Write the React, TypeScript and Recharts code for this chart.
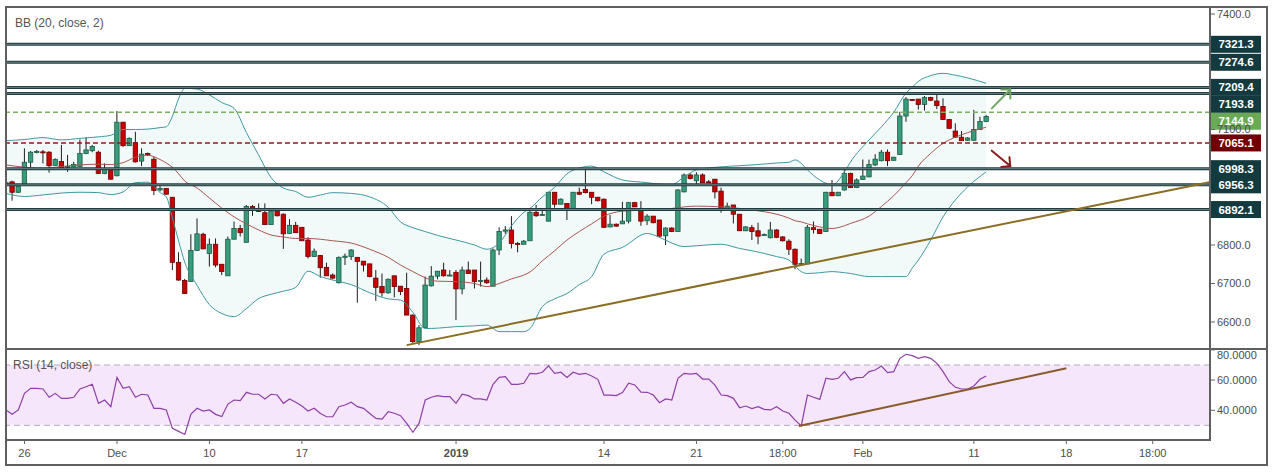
import React from "react"
import {
  ComposedChart,
  Bar,
  Line,
  Area,
  XAxis,
  YAxis,
  ReferenceLine,
  ReferenceArea
} from "recharts"

const FONT = "'Liberation Sans', Arial, sans-serif"

// 8h candles, index 0 = first visible bar
const opens = [
  6959, 6964, 6937, 6956, 7015, 7041, 7042, 7041, 7007, 7017, 7003, 7003, 7004, 7038, 7045, 7041, 6986, 6996, 6980, 7119,
  7058, 7066, 7018, 7038, 7023, 6943, 6947, 6924, 6755, 6708, 6705, 6786, 6828, 6778, 6802, 6750, 6720, 6815, 6843, 6807,
  6900, 6893, 6884, 6853, 6888, 6880, 6830, 6851, 6846, 6813, 6770, 6773, 6742, 6722, 6702, 6768, 6770, 6768, 6758, 6751,
  6714, 6692, 6676, 6720, 6693, 6687, 6618, 6549, 6586, 6694, 6719, 6735, 6720, 6729, 6686, 6735, 6735, 6706, 6709, 6693,
  6787, 6836, 6839, 6804, 6802, 6811, 6885, 6877, 6862, 6937, 6906, 6908, 6893, 6937, 6944, 6937, 6924, 6919, 6847, 6854,
  6855, 6862, 6910, 6895, 6863, 6875, 6865, 6824, 6844, 6835, 6938, 6982, 6967, 6982, 6964, 6971, 6940, 6893, 6904, 6880,
  6837, 6845, 6837, 6826, 6819, 6839, 6821, 6810, 6789, 6750, 6751, 6845, 6841, 6835, 6937, 6928, 6943, 6986, 6949, 6970,
  6977, 7008, 7019, 7041, 7020, 7035, 7135, 7178, 7179, 7165, 7183, 7174, 7160, 7126, 7096, 7080, 7072, 7072, 7100, 7121
]
const highs = [
  6964, 6967, 6956, 7051, 7044, 7047, 7047, 7044, 7025, 7060, 7034, 7016, 7074, 7080, 7060, 7045, 7012, 7000, 7148, 7120,
  7080, 7094, 7051, 7040, 7029, 6957, 6948, 6925, 6781, 6712, 6828, 6869, 6832, 6817, 6817, 6750, 6822, 6861, 6852, 6904,
  6904, 6908, 6908, 6891, 6891, 6882, 6867, 6860, 6846, 6820, 6791, 6773, 6754, 6726, 6770, 6778, 6789, 6768, 6758, 6751,
  6735, 6726, 6713, 6720, 6693, 6728, 6620, 6592, 6718, 6745, 6732, 6754, 6735, 6735, 6744, 6757, 6735, 6757, 6716, 6791,
  6846, 6849, 6875, 6808, 6813, 6895, 6904, 6893, 6938, 6938, 6921, 6908, 6938, 6949, 6999, 6937, 6925, 6921, 6878, 6856,
  6912, 6912, 6912, 6914, 6880, 6875, 6865, 6846, 6846, 6945, 6986, 6986, 6989, 6986, 6969, 6971, 6949, 6910, 6904, 6880,
  6849, 6852, 6858, 6830, 6860, 6841, 6823, 6815, 6791, 6765, 6852, 6861, 6841, 6938, 6969, 6938, 6999, 6988, 6973, 7022,
  7022, 7036, 7047, 7048, 7029, 7146, 7184, 7179, 7179, 7187, 7185, 7191, 7181, 7126, 7116, 7096, 7080, 7151, 7133, 7138
]
const lows = [
  6957, 6915, 6935, 6954, 6999, 7038, 7012, 6988, 7006, 6999, 6990, 7002, 7003, 7036, 7041, 6984, 6984, 6969, 6978, 7055,
  7057, 7014, 7005, 7031, 6930, 6939, 6931, 6735, 6707, 6673, 6704, 6785, 6789, 6744, 6742, 6722, 6720, 6815, 6822, 6807,
  6876, 6887, 6853, 6853, 6874, 6790, 6829, 6832, 6811, 6765, 6770, 6715, 6720, 6711, 6700, 6748, 6761, 6650, 6731, 6716,
  6655, 6666, 6673, 6664, 6670, 6618, 6545, 6540, 6586, 6692, 6711, 6718, 6719, 6605, 6672, 6726, 6687, 6692, 6699, 6692,
  6774, 6829, 6791, 6781, 6802, 6811, 6873, 6877, 6861, 6897, 6906, 6865, 6891, 6930, 6934, 6906, 6913, 6844, 6846, 6847,
  6855, 6856, 6899, 6850, 6852, 6856, 6820, 6800, 6834, 6834, 6937, 6970, 6958, 6962, 6962, 6921, 6884, 6891, 6856, 6837,
  6836, 6813, 6802, 6824, 6817, 6818, 6809, 6774, 6737, 6749, 6751, 6830, 6829, 6835, 6927, 6927, 6941, 6948, 6948, 6969,
  6976, 7005, 7017, 7005, 7019, 7034, 7120, 7174, 7152, 7149, 7174, 7153, 7125, 7101, 7078, 7070, 7070, 7071, 7099, 7119
]
const closes = [
  6962, 6937, 6953, 7015, 7041, 7043, 7040, 7006, 7022, 7001, 7004, 7009, 7038, 7047, 7056, 6986, 6998, 6971, 7119, 7058,
  7077, 7016, 7036, 7035, 6942, 6947, 6932, 6755, 6709, 6674, 6786, 6829, 6790, 6802, 6748, 6731, 6815, 6843, 6832, 6900,
  6891, 6887, 6853, 6888, 6876, 6829, 6851, 6832, 6811, 6770, 6784, 6741, 6720, 6714, 6768, 6771, 6787, 6757, 6748, 6718,
  6690, 6676, 6711, 6692, 6679, 6618, 6549, 6585, 6696, 6719, 6732, 6720, 6722, 6686, 6735, 6726, 6705, 6708, 6702, 6787,
  6835, 6839, 6804, 6802, 6810, 6885, 6876, 6879, 6937, 6906, 6919, 6895, 6937, 6932, 6936, 6924, 6915, 6846, 6854, 6849,
  6862, 6910, 6899, 6862, 6875, 6858, 6823, 6844, 6835, 6943, 6982, 6973, 6982, 6962, 6963, 6938, 6895, 6901, 6880, 6837,
  6847, 6835, 6823, 6827, 6839, 6820, 6811, 6789, 6750, 6752, 6846, 6840, 6830, 6937, 6928, 6937, 6986, 6949, 6969, 6979,
  7009, 7023, 7041, 7019, 7028, 7135, 7179, 7176, 7165, 7183, 7176, 7162, 7126, 7103, 7080, 7071, 7078, 7100, 7121, 7134
]

// Bollinger Bands (20, close, 2)
const bandIdx = [
  0, 3, 6, 9, 12, 15, 17, 19, 21, 23, 25, 26, 27, 28, 29, 31, 33, 35, 37, 39,
  41, 43, 45, 47, 49, 51, 53, 56, 59, 62, 64, 66, 68, 70, 73, 76, 78, 80, 82, 84,
  85, 87, 89, 91, 93, 95, 97, 100, 104, 106, 108, 110, 112, 116, 119, 121, 125, 127, 128, 129,
  130, 132, 134, 136, 137, 140, 142, 144, 146, 147, 148, 150, 152, 154, 156, 159
]
const upperBand = [
  7071, 7074, 7079, 7073, 7077, 7081, 7085, 7100, 7100, 7101, 7105, 7107, 7135, 7180, 7207, 7205, 7190, 7170, 7155, 7092,
  7033, 6975, 6948, 6939, 6924, 6930, 6936, 6934, 6925, 6898, 6860, 6845, 6835, 6825, 6813, 6800, 6789, 6805, 6850, 6885,
  6895, 6925, 6950, 6985, 7000, 7005, 6990, 6969, 6962, 6958, 6957, 6977, 6995, 7003, 7006, 7008, 7013, 7015, 7021, 7012,
  6995, 6969, 6956, 6990, 7016, 7073, 7107, 7145, 7195, 7210, 7225, 7240, 7246, 7241, 7234, 7220
]
const middleBand = [
  7008, 7002, 6999, 7004, 7008, 7010, 7009, 7014, 7028, 7033, 7022, 7013, 7002, 6985, 6966, 6948, 6922, 6896, 6873, 6855,
  6839, 6826, 6821, 6817, 6817, 6815, 6811, 6805, 6789, 6768, 6748, 6731, 6715, 6706, 6705, 6700, 6692, 6700, 6712, 6722,
  6730, 6759, 6785, 6813, 6835, 6855, 6875, 6888, 6891, 6892, 6895, 6899, 6901, 6899, 6895, 6891, 6880, 6870, 6863, 6860,
  6855, 6847, 6843, 6850, 6856, 6875, 6900, 6928, 6962, 6980, 7005, 7038, 7064, 7080, 7092, 7106
]
const lowerBand = [
  6934, 6926, 6930, 6935, 6937, 6936, 6931, 6938, 6962, 6963, 6936, 6925, 6870, 6810, 6755, 6695, 6645, 6622, 6614, 6635,
  6661, 6672, 6680, 6690, 6732, 6718, 6709, 6697, 6676, 6660, 6657, 6625, 6583, 6584, 6588, 6590, 6592, 6575, 6575, 6575,
  6583, 6640, 6660, 6674, 6697, 6718, 6776, 6794, 6830, 6820, 6805, 6796, 6798, 6802, 6791, 6785, 6770, 6761, 6745, 6731,
  6726, 6728, 6731, 6728, 6726, 6718, 6718, 6718, 6718, 6740, 6761, 6813, 6873, 6917, 6951, 6990
]

// RSI (14, close), one value per candle
const rsiValues = [
  40.2, 37.3, 40.2, 51.2, 54.5, 54.5, 54.1, 48.6, 51.2, 47.9, 47.9, 48.6, 54.1, 55.6, 57.2, 44.6, 46.8, 42.4, 61.8, 54.5,
  55.6, 48.6, 50.6, 50.1, 41.3, 41.3, 40.2, 28.0, 26.0, 24.0, 37.5, 41.3, 39.5, 40.2, 37.3, 35.8, 44.1, 46.8, 46.4, 51.9,
  50.6, 50.6, 47.5, 50.6, 50.1, 44.6, 47.5, 45.3, 42.8, 39.5, 41.3, 37.9, 35.7, 35.7, 42.4, 43.5, 45.3, 42.4, 41.3, 37.9,
  34.6, 34.2, 39.1, 38.0, 36.4, 31.3, 25.4, 31.3, 46.8, 48.6, 49.7, 49.0, 49.0, 44.6, 50.6, 49.7, 47.5, 47.5, 46.8, 57.2,
  61.8, 62.3, 57.2, 57.2, 57.9, 64.5, 64.1, 65.2, 69.4, 64.5, 65.2, 61.8, 65.2, 63.8, 64.5, 62.7, 60.5, 50.1, 50.1, 49.7,
  51.7, 57.9, 56.8, 52.0, 51.9, 50.1, 45.0, 47.5, 46.8, 61.2, 64.5, 64.0, 64.5, 60.7, 60.7, 56.7, 50.1, 49.7, 47.9, 41.7,
  42.8, 41.1, 42.4, 40.6, 40.2, 42.4, 39.5, 38.0, 33.5, 29.6, 50.1, 48.6, 47.2, 61.2, 60.5, 61.2, 65.6, 60.1, 61.6, 61.8,
  65.6, 66.7, 69.3, 64.9, 65.6, 74.4, 77.1, 76.2, 74.4, 75.5, 74.4, 71.1, 65.6, 59.0, 55.2, 54.1, 54.1, 56.1, 60.5, 62.7
]

// horizontal levels
const levelValues = [7321.3, 7274.6, 7209.4, 7193.8, 6998.3, 6956.3, 6892.1]
const lastPrice = 7144.9
const pivotPrice = 7065.1

// trend lines and arrows: [index, value]
const priceTrend = [[65, 6540], [195.2, 6963]]
const rsiTrend = [[128.6, 29.6], [172, 67.8]]
const upArrow = [[159.9, 7155], [162.9, 7204]]
const downArrow = [[159.9, 7045], [162.9, 7005]]

const priceTicks = [6600, 6700, 6800, 7100, 7400]
const rsiTicks = [40, 60, 80]
const timeTickIdx = [3, 18, 33, 48, 73, 97, 112, 126, 139, 157, 172, 186]
const timeTickLabels = ["26", "Dec", "10", "17", "2019", "14", "21", "18:00", "Feb", "11", "18", "18:00"]

const X_MAX = 195.3

const candles = closes.map((c, i) => ({
  i,
  o: opens[i],
  h: highs[i],
  l: lows[i],
  c,
  range: [lows[i], highs[i]]
}))
const bandData = bandIdx.map((i, k) => ({
  i,
  up: upperBand[k],
  mid: middleBand[k],
  lo: lowerBand[k],
  fill: [lowerBand[k], upperBand[k]]
}))
const rsiData = rsiValues.map((v, i) => ({ i, v }))

const Candle = (props: any) => {
  const { x, y, width, height, payload } = props
  if (!payload || height == null) return null
  const { o, h, l, c } = payload
  const top = Math.min(y, y + height)
  const span = Math.abs(height)
  const k = h === l ? 0 : span / (h - l)
  const py = (v: number) => top + (h - v) * k
  const cx = x + width / 2
  const up = c >= o
  const bTop = py(Math.max(o, c))
  const bh = Math.max(py(Math.min(o, c)) - bTop, 1)
  return (
    <g>
      <line x1={cx} x2={cx} y1={top} y2={top + span} stroke="#1e1e1e" strokeWidth={1} />
      <rect
        x={cx - 2.2}
        y={bTop}
        width={4.4}
        height={bh}
        fill={up ? "#379c7b" : "#c80000"}
        stroke={up ? "#1d5b45" : "#6e0000"}
        strokeWidth={0.8}
      />
    </g>
  )
}

const levelLabel = (text: string, bg: string, dy: number) => (p: any) => {
  const vb = p.viewBox
  if (!vb) return null
  const x0 = vb.x + vb.width + 1
  const cy = vb.y + dy
  return (
    <g>
      <rect x={x0} y={cy - 8.5} width={50} height={17} fill={bg} />
      <text
        x={x0 + 25}
        y={cy + 4}
        textAnchor="middle"
        fill="#ffffff"
        fontSize={11.5}
        fontWeight="bold"
        fontFamily={FONT}
      >
        {text}
      </text>
    </g>
  )
}

const arrowShape = (color: string) => (p: any) => {
  const { x1, y1, x2, y2 } = p
  const ang = Math.atan2(y2 - y1, x2 - x1)
  const len = 9
  const a1 = ang + (Math.PI * 3) / 4
  const a2 = ang - (Math.PI * 3) / 4
  return (
    <g stroke={color} strokeWidth={2} strokeLinecap="round" fill="none">
      <line x1={x1} y1={y1} x2={x2} y2={y2} />
      <line x1={x2} y1={y2} x2={x2 + len * Math.cos(a1)} y2={y2 + len * Math.sin(a1)} />
      <line x1={x2} y1={y2} x2={x2 + len * Math.cos(a2)} y2={y2 + len * Math.sin(a2)} />
    </g>
  )
}

const TimeTick = (p: any) => {
  const k = timeTickIdx.indexOf(p.payload.value)
  const label = timeTickLabels[k]
  return (
    <text
      x={p.x}
      y={p.y + 11}
      textAnchor="middle"
      fontSize={11}
      fill="#4d4d4d"
      fontFamily={FONT}
      fontWeight={label === "2019" ? "bold" : "normal"}
    >
      {label}
    </text>
  )
}

// label offsets where the axis boxes are pushed apart
const levelDy = [0, 0, 0, 11, 0, 0, 0]
const seg = (pts: number[][]) => pts.map(([x, y]) => ({ x, y }))

const frame = "#5f5f5f"

export default function App() {
  return (
    <div style={{ position: "absolute", left: 0, top: 0, width: 1274, height: 472, background: "#fff", fontFamily: FONT }}>
      <div style={{ position: "absolute", left: 6, top: 7 }}>
        <ComposedChart width={1261} height={342} data={candles} margin={{ top: 0, right: 0, bottom: 0, left: 0 }}>
          <XAxis type="number" dataKey="i" domain={[0, X_MAX]} allowDataOverflow hide />
          <YAxis
            orientation="right"
            width={57}
            domain={[6529.9, 7418.2]}
            allowDataOverflow
            ticks={priceTicks}
            tickFormatter={(v: number) => v.toFixed(1)}
            tick={{ fill: "#4d4d4d", fontSize: 11, fontFamily: FONT }}
            tickLine={{ stroke: "#666" }}
            tickSize={5}
            axisLine={false}
          />
          <Area
            data={bandData}
            dataKey="fill"
            type="linear"
            stroke="none"
            fill="#2a9d9d"
            fillOpacity={0.06}
            isAnimationActive={false}
          />
          <Line data={bandData} dataKey="up" type="monotone" stroke="#3f98a0" strokeWidth={1} dot={false} isAnimationActive={false} />
          <Line data={bandData} dataKey="lo" type="monotone" stroke="#3f98a0" strokeWidth={1} dot={false} isAnimationActive={false} />
          <Line data={bandData} dataKey="mid" type="monotone" stroke="#a8554f" strokeWidth={1} dot={false} isAnimationActive={false} />
          <Bar dataKey="range" barSize={4} shape={<Candle />} isAnimationActive={false} />
          {levelValues.map((v) => (
            <ReferenceLine key={"d" + v} y={v} stroke="#1f3b3f" strokeWidth={3} />
          ))}
          {levelValues.map((v, k) => (
            <ReferenceLine
              key={"l" + v}
              y={v}
              stroke="#7f9496"
              strokeWidth={0.8}
              label={levelLabel(v.toFixed(1), "#133b3f", levelDy[k])}
            />
          ))}
          <ReferenceLine
            y={pivotPrice}
            stroke="#8c1c1c"
            strokeWidth={1.5}
            strokeDasharray="5 3"
            label={levelLabel(pivotPrice.toFixed(1), "#700000", 0)}
          />
          <ReferenceLine
            y={lastPrice}
            stroke="#7bb25a"
            strokeWidth={1.5}
            strokeDasharray="5 3"
            label={levelLabel(lastPrice.toFixed(1), "#6aa955", 9)}
          />
          <ReferenceLine segment={seg(priceTrend)} stroke="#8b6d23" strokeWidth={2} />
          <ReferenceLine segment={seg(upArrow)} shape={arrowShape("#6fa861")} />
          <ReferenceLine segment={seg(downArrow)} shape={arrowShape("#8b1c1c")} />
        </ComposedChart>
      </div>

      <div style={{ position: "absolute", left: 6, top: 349 }}>
        <ComposedChart width={1261} height={116} data={rsiData} margin={{ top: 0, right: 0, bottom: 0, left: 0 }}>
          <XAxis
            type="number"
            dataKey="i"
            domain={[0, X_MAX]}
            allowDataOverflow
            ticks={timeTickIdx}
            tick={<TimeTick />}
            tickLine={{ stroke: "#666" }}
            tickSize={4}
            height={25}
            axisLine={{ stroke: frame, strokeWidth: 2 }}
          />
          <YAxis
            orientation="right"
            width={57}
            domain={[20.3, 80.6]}
            allowDataOverflow
            ticks={rsiTicks}
            tickFormatter={(v: number) => v.toFixed(4)}
            tick={{ fill: "#4d4d4d", fontSize: 11, fontFamily: FONT }}
            tickLine={{ stroke: "#666" }}
            tickSize={5}
            axisLine={false}
          />
          <ReferenceArea y1={30} y2={70} fill="#f5e6fc" fillOpacity={1} stroke="none" />
          <ReferenceLine y={70} stroke="#b7a6c2" strokeDasharray="6 4" />
          <ReferenceLine y={30} stroke="#b7a6c2" strokeDasharray="6 4" />
          <Line dataKey="v" type="linear" stroke="#8e3fa6" strokeWidth={1.2} dot={false} isAnimationActive={false} />
          <ReferenceLine segment={seg(rsiTrend)} stroke="#8b5a2b" strokeWidth={2} />
        </ComposedChart>
      </div>

      <div style={{ position: "absolute", left: 15, top: 16, fontSize: 12, color: "#555" }}>BB (20, close, 2)</div>
      <div style={{ position: "absolute", left: 13, top: 358, fontSize: 12, color: "#555" }}>RSI (14, close)</div>

      {/* panel frame */}
      <div style={{ position: "absolute", left: 5, top: 6, width: 1263, height: 460, border: `2px solid ${frame}`, boxSizing: "border-box", pointerEvents: "none" }} />
      <div style={{ position: "absolute", left: 1209, top: 7, width: 2, height: 434, background: frame }} />
      <div style={{ position: "absolute", left: 6, top: 348, width: 1261, height: 2, background: frame }} />
    </div>
  )
}
